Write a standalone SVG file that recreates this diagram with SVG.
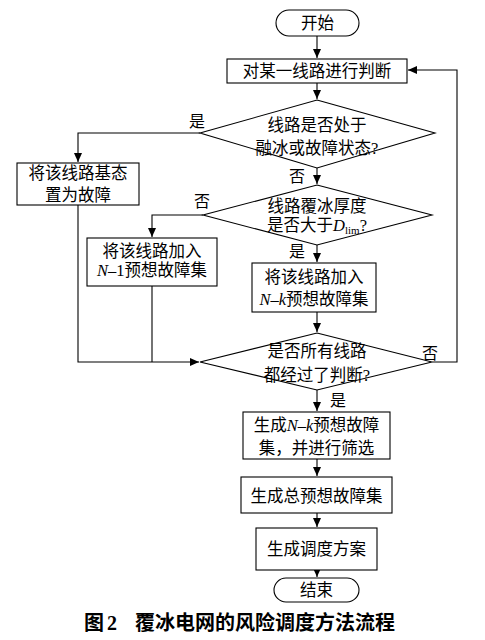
<svg xmlns="http://www.w3.org/2000/svg" width="485" height="640" viewBox="0 0 485 640">
<defs>
<marker id="arr" markerWidth="10" markerHeight="10" refX="9" refY="5" orient="auto" markerUnits="userSpaceOnUse">
<path d="M0,1 L9,5 L0,9 Z" fill="#000"/>
</marker>
<style>
.sh{fill:#fff;stroke:#000;stroke-width:1.1}
.ln{fill:none;stroke:#000;stroke-width:1.1}
.t{font-family:'Liberation Serif','Noto Sans CJK SC',serif;font-size:16.5px;fill:#000;text-anchor:middle}
.lb{font-family:'Liberation Serif','Noto Sans CJK SC',serif;font-size:16px;fill:#000;text-anchor:middle}
.i{font-style:italic}
.cap{font-family:'Liberation Sans','Noto Sans CJK SC',sans-serif;font-size:20px;font-weight:bold;fill:#000}
</style>
</defs>
<rect width="485" height="640" fill="#fff"/>
<g id="connectors">
<path class="ln" d="M317,36 V58" marker-end="url(#arr)"/>
<path class="ln" d="M317,83 V99" marker-end="url(#arr)"/>
<path class="ln" d="M200,133 H78 V162" marker-end="url(#arr)"/>
<path class="ln" d="M317,168 V184" marker-end="url(#arr)"/>
<path class="ln" d="M203,215 H152 V237" marker-end="url(#arr)"/>
<path class="ln" d="M317,245 V262" marker-end="url(#arr)"/>
<path class="ln" d="M317,312 V332" marker-end="url(#arr)"/>
<path class="ln" d="M78,205 V362 H199" marker-end="url(#arr)"/>
<path class="ln" d="M152,286 V362"/>
<path class="ln" d="M432,362 H457 V70 H408" marker-end="url(#arr)"/>
<path class="ln" d="M317,390 V411" marker-end="url(#arr)"/>
<path class="ln" d="M317,459 V476" marker-end="url(#arr)"/>
<path class="ln" d="M317,513 V527" marker-end="url(#arr)"/>
<path class="ln" d="M317,570 V577" marker-end="url(#arr)"/>
<text class="lb" x="197" y="127">是</text>
<text class="lb" x="297" y="182">否</text>
<text class="lb" x="202" y="207">否</text>
<text class="lb" x="297" y="257">是</text>
<text class="lb" x="430" y="359">否</text>
<text class="lb" x="338" y="406">是</text>
</g>
<g id="start">
<rect class="sh" x="276" y="10" width="83" height="26" rx="13"/>
<text class="t" x="317.5" y="29">开始</text>
</g>
<g id="judge">
<rect class="sh" x="227" y="59" width="180" height="24"/>
<text class="t" x="317" y="77">对某一线路进行判断</text>
</g>
<g id="d1">
<polygon class="sh" points="317,100 435,133 317,168 200,133"/>
<text class="t" x="317" y="131">线路是否处于</text>
<text class="t" x="317" y="154">融冰或故障状态?</text>
</g>
<g id="basefault">
<rect class="sh" x="17" y="163" width="122" height="42"/>
<text class="t" x="78" y="179">将该线路基态</text>
<text class="t" x="78" y="201">置为故障</text>
</g>
<g id="d2">
<polygon class="sh" points="317,185 432,215 317,245 203,215"/>
<text class="t" x="317" y="212">线路覆冰厚度</text>
<text class="t" x="317" y="231">是否大于<tspan class="i">D</tspan><tspan font-size="11" dy="3">lim</tspan><tspan dy="-3">?</tspan></text>
</g>
<g id="n1">
<rect class="sh" x="87" y="238" width="130" height="48"/>
<text class="t" x="152" y="257">将该线路加入</text>
<text class="t" x="152" y="276"><tspan class="i">N</tspan>–1预想故障集</text>
</g>
<g id="nk">
<rect class="sh" x="252" y="263" width="124" height="49"/>
<text class="t" x="314" y="283">将该线路加入</text>
<text class="t" x="314" y="305"><tspan class="i">N</tspan>–<tspan class="i">k</tspan>预想故障集</text>
</g>
<g id="d3">
<polygon class="sh" points="317,333 432,362 317,390 200,362"/>
<text class="t" x="317" y="357">是否所有线路</text>
<text class="t" x="317" y="381">都经过了判断?</text>
</g>
<g id="gen">
<rect class="sh" x="243" y="412" width="147" height="47"/>
<text class="t" x="316.5" y="431">生成<tspan class="i">N</tspan>–<tspan class="i">k</tspan>预想故障</text>
<text class="t" x="316.5" y="454">集，并进行筛选</text>
</g>
<g id="total">
<rect class="sh" x="241" y="477" width="151" height="36"/>
<text class="t" x="316.5" y="502">生成总预想故障集</text>
</g>
<g id="sched">
<rect class="sh" x="256" y="528" width="121" height="42"/>
<text class="t" x="316.5" y="555">生成调度方案</text>
</g>
<g id="end">
<rect class="sh" x="274" y="578" width="85" height="24" rx="12"/>
<text class="t" x="316.5" y="596">结束</text>
</g>
<g id="caption">
<text class="cap" x="84" y="630">图<tspan x="107" font-family="'Liberation Serif',serif">2</tspan><tspan x="135">覆冰电网的风险调度方法流程</tspan></text>
</g>
</svg>
